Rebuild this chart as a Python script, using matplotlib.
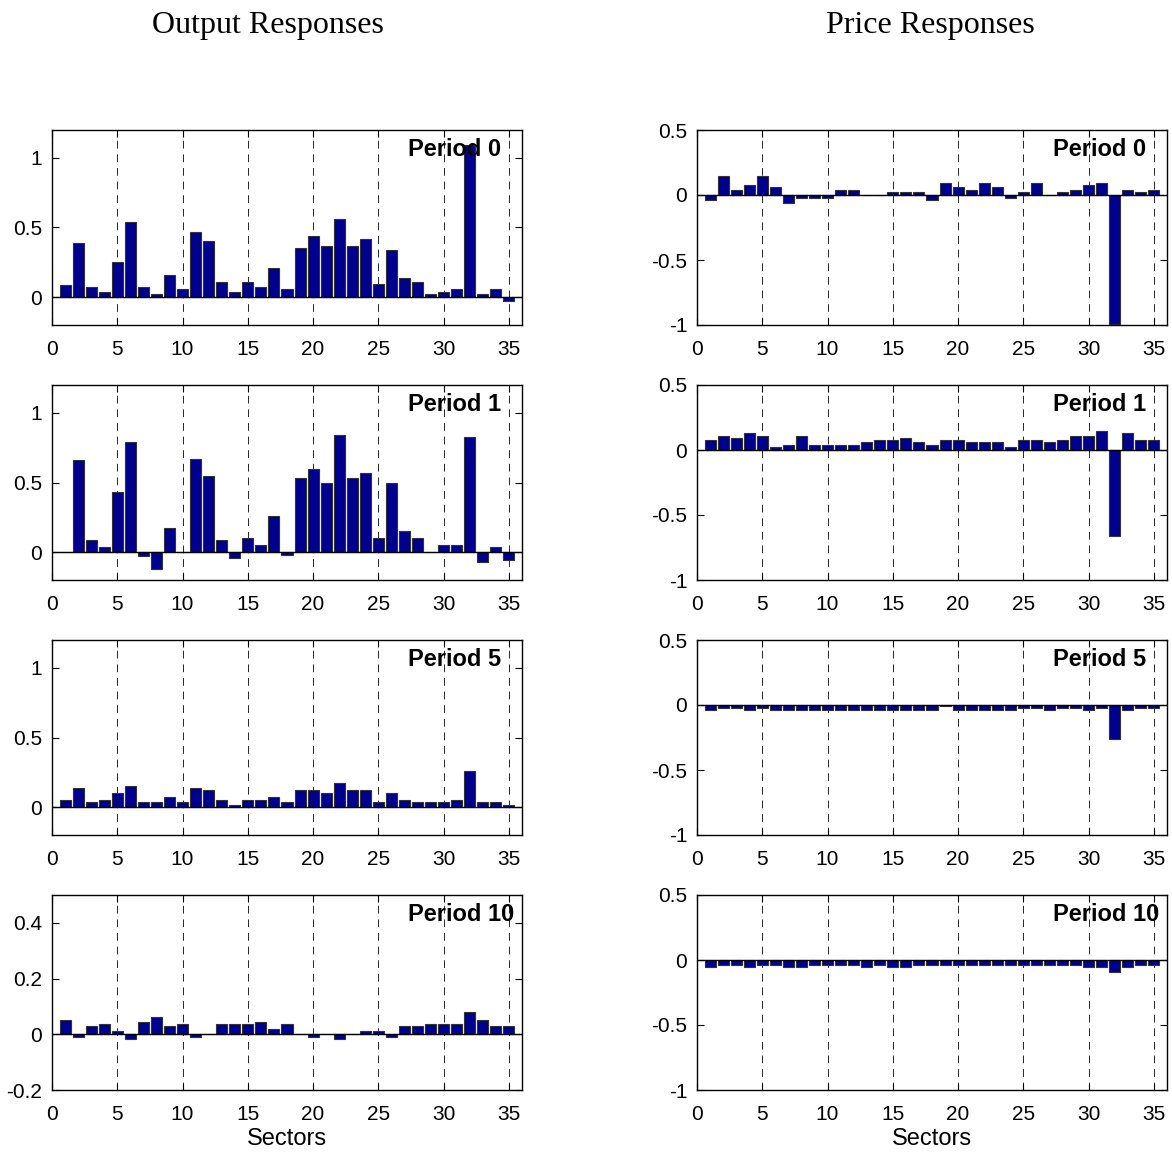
#Output and price responses by sector, periods 0/1/5/10

import numpy as np
import matplotlib.pyplot as plt

sectors = np.arange(1, 36)
periods = [0, 1, 5, 10]

#output responses
out_p0 = [0.09, 0.39, 0.074, 0.04, 0.25, 0.54, 0.074, 0.025, 0.16, 0.06,
          0.47, 0.40, 0.11, 0.04, 0.11, 0.074, 0.21, 0.06, 0.35, 0.44,
          0.37, 0.56, 0.37, 0.42, 0.094, 0.34, 0.14, 0.11, 0.025, 0.04,
          0.06, 1.09, 0.025, 0.06, -0.03]
out_p1 = [0.0, 0.66, 0.087, 0.035, 0.43, 0.79, -0.025, -0.12, 0.17, 0.0,
          0.67, 0.55, 0.087, -0.04, 0.10, 0.05, 0.26, -0.02, 0.535, 0.60,
          0.50, 0.84, 0.535, 0.57, 0.10, 0.50, 0.15, 0.10, 0.0, 0.05,
          0.05, 0.83, -0.074, 0.035, -0.057]
out_p5 = [0.05, 0.14, 0.035, 0.05, 0.10, 0.155, 0.035, 0.035, 0.07, 0.035,
          0.14, 0.12, 0.05, 0.017, 0.05, 0.05, 0.07, 0.035, 0.12, 0.12,
          0.10, 0.17, 0.12, 0.12, 0.035, 0.10, 0.05, 0.035, 0.035, 0.035,
          0.05, 0.26, 0.035, 0.035, 0.017]
out_p10 = [0.053, -0.01, 0.028, 0.036, 0.012, -0.017, 0.045, 0.062, 0.028, 0.036,
           -0.008, 0.0, 0.036, 0.036, 0.036, 0.045, 0.019, 0.036, 0.0, -0.008,
           0.0, -0.017, 0.0, 0.012, 0.012, -0.008, 0.028, 0.028, 0.036, 0.036,
           0.036, 0.079, 0.053, 0.028, 0.028]

#price responses
price_p0 = [-0.035, 0.15, 0.04, 0.08, 0.15, 0.06, -0.06, -0.02, -0.02, -0.02,
            0.04, 0.04, 0.0, 0.0, 0.02, 0.02, 0.02, -0.035, 0.095, 0.06,
            0.04, 0.095, 0.06, -0.02, 0.02, 0.095, 0.0, 0.02, 0.04, 0.08,
            0.095, -0.99, 0.04, 0.02, 0.04]
price_p1 = [0.076, 0.11, 0.095, 0.13, 0.11, 0.02, 0.04, 0.11, 0.04, 0.04,
            0.04, 0.04, 0.058, 0.076, 0.076, 0.095, 0.058, 0.04, 0.076, 0.076,
            0.058, 0.058, 0.058, 0.02, 0.076, 0.076, 0.058, 0.076, 0.11, 0.11,
            0.15, -0.66, 0.13, 0.076, 0.076]
price_p5 = [-0.04, -0.02, -0.02, -0.04, -0.02, -0.04, -0.04, -0.04, -0.04, -0.04,
            -0.04, -0.04, -0.04, -0.04, -0.04, -0.04, -0.04, -0.04, -0.01, -0.04,
            -0.04, -0.04, -0.04, -0.04, -0.02, -0.02, -0.04, -0.02, -0.02, -0.04,
            -0.02, -0.26, -0.04, -0.02, -0.02]
price_p10 = [-0.057, -0.037, -0.037, -0.057, -0.037, -0.037, -0.057, -0.057, -0.037, -0.037,
             -0.037, -0.037, -0.057, -0.037, -0.057, -0.057, -0.037, -0.037, -0.037, -0.037,
             -0.037, -0.037, -0.037, -0.037, -0.037, -0.037, -0.037, -0.037, -0.037, -0.057,
             -0.057, -0.09, -0.057, -0.037, -0.037]

output_series = [out_p0, out_p1, out_p5, out_p10]
price_series = [price_p0, price_p1, price_p5, price_p10]

plt.rcParams["font.family"] = "Liberation Sans"
plt.rcParams["axes.unicode_minus"] = False

bar_color = "#00008F"

fig = plt.figure(figsize=(11.72, 11.65), dpi=100)

W, H = 1172, 1165
ax_w = 470 / W
ax_h = 195 / H
lefts = [52 / W, 697 / W]
bottoms = [(H - 325) / H, (H - 580) / H, (H - 835) / H, (H - 1090) / H]


def draw_panel(ax, vals, period, ylim, yticks):
    ax.bar(sectors, vals, width=0.85, color=bar_color, edgecolor="0.2",
           linewidth=0.8, zorder=2)
    ax.axhline(0, color="black", lw=1.0, zorder=3)
    ax.set_xlim(0, 36)
    ax.set_ylim(*ylim)
    ax.set_xticks(range(0, 36, 5))
    ax.set_yticks(yticks)
    ax.set_yticklabels([f"{t:g}" for t in yticks])
    for xv in range(5, 36, 5):
        ax.axvline(xv, color="0.15", lw=0.7, ls=(0, (8, 6)), zorder=1)
    ax.tick_params(direction="in", length=5, width=0.8, top=True, right=True,
                   labelsize=15)
    ax.tick_params(axis="x", pad=11)
    ax.tick_params(axis="y", pad=7)
    for s in ax.spines.values():
        s.set_linewidth(1.0)
    ax.text(27.3, 0.96, f"Period {period}", transform=ax.get_xaxis_transform(),
            ha="left", va="top", fontsize=17, fontweight="bold", zorder=4)


for row in range(4):
    #left column
    ax = fig.add_axes([lefts[0], bottoms[row], ax_w, ax_h])
    if row < 3:
        draw_panel(ax, output_series[row], periods[row], (-0.2, 1.2), [0, 0.5, 1])
    else:
        draw_panel(ax, output_series[row], periods[row], (-0.2, 0.5), [-0.2, 0, 0.2, 0.4])
        ax.set_xlabel("Sectors", fontsize=17, labelpad=3)

    #right column
    ax = fig.add_axes([lefts[1], bottoms[row], ax_w, ax_h])
    draw_panel(ax, price_series[row], periods[row], (-1, 0.5), [-1, -0.5, 0, 0.5])
    if row == 3:
        ax.set_xlabel("Sectors", fontsize=17, labelpad=3)

fig.text(268 / W, 1 - 26 / H, "Output Responses", family="Liberation Serif",
         fontsize=23, ha="center", va="center")
fig.text(930 / W, 1 - 26 / H, "Price Responses", family="Liberation Serif",
         fontsize=23, ha="center", va="center")

fig.savefig("out.png", dpi=100)
